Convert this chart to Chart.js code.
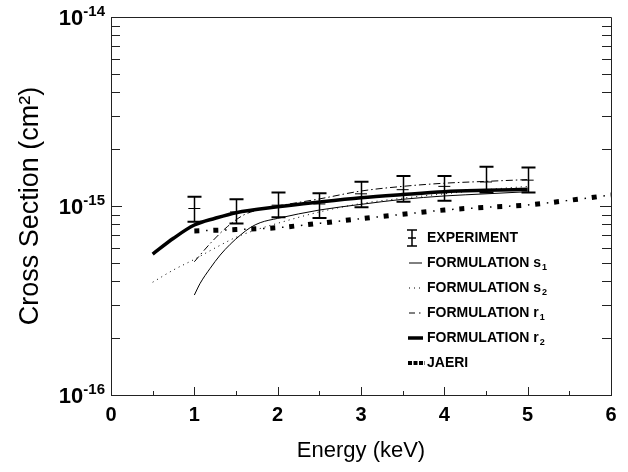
<!DOCTYPE html>
<html>
<head>
<meta charset="utf-8">
<script src="https://cdn.jsdelivr.net/npm/chart.js@4.4.1/dist/chart.umd.min.js"></script>
<style>
  html, body { margin: 0; padding: 0; background: #fff; }
  #chart { display: block; }
</style>
</head>
<body>
<canvas id="chart" width="628" height="472"></canvas>
<script>
// all cross sections are in units of 1e-15 cm^2
const expEnergy = [1, 1.5, 2, 2.5, 3, 3.5, 4, 4.5, 5];
const expValue  = [0.97, 0.93, 1.01, 1.025, 1.16, 1.22, 1.27, 1.34, 1.37];
const expHigh   = [1.12, 1.085, 1.18, 1.167, 1.345, 1.44, 1.44, 1.614, 1.6];
const expLow    = [0.826, 0.809, 0.871, 0.864, 0.984, 1.054, 1.066, 1.18, 1.18];

const s1Energy = [1, 1.07, 1.19, 1.31, 1.43, 1.55, 1.67, 1.79, 2, 2.5, 3, 3.5, 4, 4.5, 5];
const s1Value  = [0.338, 0.39, 0.468, 0.55, 0.627, 0.70, 0.768, 0.816, 0.86, 0.952, 1.02, 1.085, 1.13, 1.16, 1.19];

const s2Energy = [0.5, 0.75, 1, 1.25, 1.5, 1.75, 2, 2.5, 3, 3.5, 4, 4.5, 5];
const s2Value  = [0.395, 0.459, 0.522, 0.60, 0.683, 0.75, 0.81, 0.93, 1.03, 1.10, 1.16, 1.22, 1.27];

const r1Energy = [1, 1.2, 1.4, 1.6, 1.8, 2, 2.5, 3, 3.5, 4, 4.5, 5];
const r1Value  = [0.507, 0.64, 0.78, 0.90, 0.96, 1.0, 1.09, 1.2, 1.27, 1.32, 1.35, 1.38];

const r2Energy = [0.5, 0.75, 1, 1.25, 1.5, 2, 2.5, 3, 3.5, 4, 4.5, 5];
const r2Value  = [0.557, 0.675, 0.793, 0.861, 0.922, 0.991, 1.05, 1.106, 1.15, 1.19, 1.21, 1.225];

const jaeriEnergy = [1, 1.5, 2, 2.5, 3, 3.5, 4, 4.5, 5, 5.5, 6];
const jaeriValue  = [0.738, 0.75, 0.768, 0.81, 0.857, 0.904, 0.952, 0.984, 1.012, 1.072, 1.143];

const xTicks = [0, 1, 2, 3, 4, 5, 6];
const yTickValues = [0.1, 1, 10];
const yTickExponents = ['-16', '-15', '-14'];

const legendLabels = [
    ['EXPERIMENT', ''],
    ['FORMULATION s', '1'],
    ['FORMULATION s', '2'],
    ['FORMULATION r', '1'],
    ['FORMULATION r', '2'],
    ['JAERI', '']
];

const FONT = "'Liberation Sans', Arial, Helvetica, sans-serif";

function pts(xs, ys) {
    return xs.map((x, i) => ({ x: x, y: ys[i] }));
}

// inner tick marks, box, decade labels
const frame = {
    id: 'frame',
    afterDraw(chart) {
        const ctx = chart.ctx;
        const a = chart.chartArea;
        const xs = chart.scales.x;
        const ys = chart.scales.y;
        ctx.save();
        ctx.strokeStyle = '#222';
        ctx.lineWidth = 1;
        ctx.beginPath();
        ctx.moveTo(a.left, a.top + 0.5);
        ctx.lineTo(a.right + 0.5, a.top + 0.5);
        ctx.lineTo(a.right + 0.5, a.bottom);
        ctx.stroke();

        ctx.beginPath();
        for (let e = -1; e < 1; e++) {
            for (let m = 1; m < 10; m++) {
                const y = Math.round(ys.getPixelForValue(m * Math.pow(10, e))) + 0.5;
                const len = m === 1 ? 11 : 9;
                ctx.moveTo(a.left, y); ctx.lineTo(a.left + len, y);
                ctx.moveTo(a.right, y); ctx.lineTo(a.right - len, y);
            }
        }
        for (let v = 0.5; v < 6; v += 0.5) {
            const x = Math.round(xs.getPixelForValue(v)) + 0.5;
            const len = v % 1 === 0 ? 8 : 4;
            ctx.moveTo(x, a.bottom); ctx.lineTo(x, a.bottom - len);
        }
        ctx.stroke();

        ctx.fillStyle = '#000';
        ctx.textBaseline = 'alphabetic';
        yTickValues.forEach((v, i) => {
            const y = ys.getPixelForValue(v);
            ctx.font = 'bold 15px ' + FONT;
            const supW = ctx.measureText(yTickExponents[i]).width;
            const supX = a.left - 6 - supW;
            ctx.fillText(yTickExponents[i], supX, y - 1);
            ctx.font = 'bold 22px ' + FONT;
            const baseW = ctx.measureText('10').width;
            ctx.fillText('10', supX - baseW, y + 8);
        });
        ctx.restore();
    }
};

// experiment error bars
const errorBars = {
    id: 'errorBars',
    afterDatasetsDraw(chart) {
        const ctx = chart.ctx;
        const xs = chart.scales.x;
        const ys = chart.scales.y;
        ctx.save();
        ctx.strokeStyle = '#000';
        expEnergy.forEach((e, i) => {
            const x = Math.round(xs.getPixelForValue(e)) + 0.5;
            const yh = ys.getPixelForValue(expHigh[i]);
            const yl = ys.getPixelForValue(expLow[i]);
            ctx.lineWidth = 1.5;
            ctx.beginPath();
            ctx.moveTo(x, yh); ctx.lineTo(x, yl);
            ctx.stroke();
            ctx.lineWidth = 2;
            ctx.beginPath();
            ctx.moveTo(x - 7, yh); ctx.lineTo(x + 7, yh);
            ctx.moveTo(x - 7, yl); ctx.lineTo(x + 7, yl);
            ctx.stroke();
        });
        ctx.restore();
    }
};

// legend with subscripts
const subLegend = {
    id: 'subLegend',
    afterDraw(chart) {
        const ctx = chart.ctx;
        const x0 = 409, tx = 427, y0 = 238, dy = 25;
        ctx.save();
        ctx.strokeStyle = '#000';
        ctx.fillStyle = '#000';
        legendLabels.forEach((lab, i) => {
            const y = y0 + i * dy;
            ctx.beginPath();
            ctx.setLineDash([]);
            if (i === 0) {
                ctx.lineWidth = 1.5;
                ctx.moveTo(x0 + 3, y - 8); ctx.lineTo(x0 + 3, y + 8);
                ctx.moveTo(x0 - 2, y - 8); ctx.lineTo(x0 + 8, y - 8);
                ctx.moveTo(x0 - 2, y + 8); ctx.lineTo(x0 + 8, y + 8);
                ctx.moveTo(x0 - 1, y); ctx.lineTo(x0 + 7, y);
            } else if (i === 1) {
                ctx.lineWidth = 1;
                ctx.moveTo(x0, y); ctx.lineTo(x0 + 13, y);
            } else if (i === 2) {
                ctx.lineWidth = 1;
                ctx.setLineDash([1, 4]);
                ctx.moveTo(x0, y); ctx.lineTo(x0 + 13, y);
            } else if (i === 3) {
                ctx.lineWidth = 1;
                ctx.setLineDash([6, 4, 1.5, 4]);
                ctx.moveTo(x0, y); ctx.lineTo(x0 + 14, y);
            } else if (i === 4) {
                ctx.lineWidth = 3.5;
                ctx.moveTo(x0 - 1, y); ctx.lineTo(x0 + 14, y);
            } else {
                ctx.lineWidth = 4;
                ctx.setLineDash([4, 1.5]);
                ctx.moveTo(x0 - 1, y); ctx.lineTo(x0 + 16, y);
            }
            ctx.stroke();
            ctx.font = 'bold 14px ' + FONT;
            ctx.textBaseline = 'middle';
            ctx.fillText(lab[0], tx, y);
            if (lab[1]) {
                const w = ctx.measureText(lab[0]).width;
                ctx.font = 'bold 9px ' + FONT;
                ctx.fillText(lab[1], tx + w + 1, y + 5);
            }
        });
        ctx.restore();
    }
};

const lineBase = {
    borderColor: '#000',
    backgroundColor: '#000',
    pointRadius: 0,
    fill: false,
    cubicInterpolationMode: 'monotone'
};

new Chart(document.getElementById('chart'), {
    type: 'line',
    data: {
        datasets: [
            Object.assign({}, lineBase, { label: 'FORMULATION s1', data: pts(s1Energy, s1Value), borderWidth: 1 }),
            Object.assign({}, lineBase, { label: 'FORMULATION s2', data: pts(s2Energy, s2Value), borderWidth: 1, borderDash: [1, 4] }),
            Object.assign({}, lineBase, { label: 'FORMULATION r1', data: pts(r1Energy, r1Value), borderWidth: 1, borderDash: [7, 3, 1.5, 3] }),
            Object.assign({}, lineBase, { label: 'FORMULATION r2', data: pts(r2Energy, r2Value), borderWidth: 3.5 }),
            Object.assign({}, lineBase, { label: 'JAERI', data: pts(jaeriEnergy, jaeriValue), borderWidth: 5, borderDash: [5, 14] }),
            Object.assign({}, lineBase, { label: 'JAERI minor', data: pts(jaeriEnergy, jaeriValue), borderWidth: 1.5, borderDash: [1.5, 17.5], borderDashOffset: -11.75 }),
            {
                label: 'EXPERIMENT',
                data: pts(expEnergy, expValue),
                showLine: false,
                pointStyle: 'line',
                pointRadius: 6,
                borderWidth: 1,
                borderColor: '#000'
            }
        ]
    },
    options: {
        responsive: false,
        animation: false,
        devicePixelRatio: 1,
        layout: { padding: { left: 0, top: 17, right: 17, bottom: 0 } },
        plugins: {
            legend: { display: false },
            tooltip: { enabled: false }
        },
        scales: {
            x: {
                type: 'linear',
                min: 0,
                max: 6,
                afterBuildTicks: (scale) => { scale.ticks = xTicks.map(v => ({ value: v })); },
                afterFit: (scale) => { scale.height = 77; },
                grid: { display: false, drawTicks: false },
                border: { display: true, color: '#222', width: 1 },
                ticks: { color: '#000', padding: 8, font: { family: FONT, size: 20, weight: 'bold' } },
                title: {
                    display: true,
                    text: 'Energy (keV)',
                    color: '#000',
                    font: { family: FONT, size: 22 },
                    padding: { top: 0, bottom: 8 }
                }
            },
            y: {
                type: 'logarithmic',
                min: 0.1,
                max: 10,
                afterFit: (scale) => { scale.width = 111; },
                grid: { display: false, drawTicks: false },
                border: { display: true, color: '#222', width: 1 },
                ticks: { display: false },
                title: {
                    display: true,
                    text: 'Cross Section (cm²)',
                    color: '#000',
                    font: { family: FONT, size: 27 },
                    padding: { top: 14, bottom: 0 }
                }
            }
        }
    },
    plugins: [frame, errorBars, subLegend]
});
</script>
</body>
</html>
